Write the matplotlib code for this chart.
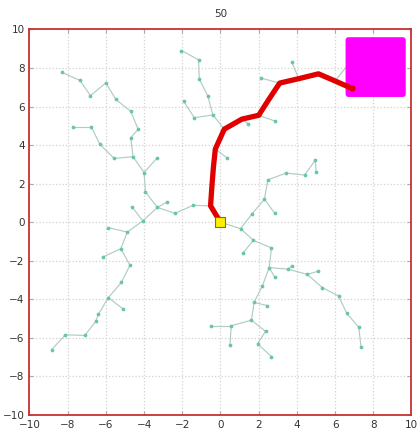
import matplotlib
matplotlib.use("Agg")
import matplotlib.pyplot as plt
from matplotlib.patches import FancyBboxPatch

# Tree nodes (x, y) and parent index (-1 = root)
node_x = [0.0, -0.52, -0.45, -0.37, -0.27, 0.2, 1.12, 2.0, 2.55, 3.1, 4.1, 5.13, 6.0, 6.87,
          0.33, 3.73, 2.12, 2.85, 1.46, 6.7,
          -0.4, -0.66, -1.11, -1.15, -2.05, -1.37, -1.93,
          -1.44, -2.37, -3.3, -2.8, -3.93, -4.0, -3.32, -4.58, -5.57, -6.32, -6.77, -7.74,
          -4.7, -4.31, -4.7, -5.48, -6.0, -6.81, -7.36, -8.3,
          -4.07, -4.63, -4.88, -5.87, -5.22, -6.13, -4.74, -5.19, -5.87, -5.09, -6.39, -6.53,
          -7.1, -8.13, -8.84,
          1.05, 1.65, 2.3, 2.83, 2.48, 3.43, 4.41, 4.96, 5.02,
          1.72, 1.2, 2.67, 2.55, 2.85, 3.54, 3.75, 4.55, 5.1, 5.33, 6.18, 6.61, 7.24, 7.36,
          2.2, 1.76, 2.45, 1.62, 0.56, -0.48, 0.5, 2.36, 1.94, 2.67]
node_y = [0.0, 0.85, 1.85, 2.85, 3.8, 4.83, 5.35, 5.55, 6.4, 7.22, 7.45, 7.7, 7.33, 6.95,
          3.35, 8.31, 7.48, 5.25, 5.11, 8.2,
          5.57, 6.54, 7.43, 8.43, 8.91, 5.42, 6.28,
          0.88, 0.46, 0.77, 1.05, 1.57, 2.58, 3.33, 3.4, 3.31, 4.05, 4.96, 4.96,
          4.39, 4.82, 5.76, 6.37, 7.23, 6.57, 7.36, 7.77,
          0.07, 0.8, -0.51, -0.28, -1.37, -1.79, -2.23, -3.12, -3.91, -4.51, -4.77, -5.14,
          -5.87, -5.84, -6.61,
          -0.33, 0.43, 1.2, 0.48, 2.2, 2.55, 2.45, 3.22, 2.59,
          -0.94, -1.57, -1.33, -2.35, -2.86, -2.43, -2.26, -2.71, -2.54, -3.39, -3.82, -4.72, -5.45, -6.48,
          -3.29, -4.16, -4.32, -5.08, -5.37, -5.37, -6.38, -5.66, -6.3, -6.97]
node_parent = [-1, 0, 1, 2, 3, 4, 5, 6, 7, 8, 9, 10, 11, 12,
               4, 10, 9, 7, 6, 12,
               5, 20, 21, 22, 23, 20, 25,
               1, 27, 28, 29, 29, 31, 32, 32, 34, 35, 36, 37,
               34, 39, 40, 41, 42, 43, 44, 45,
               29, 47, 47, 49, 49, 51, 51, 53, 54, 55, 55, 57,
               58, 59, 60,
               0, 62, 63, 64, 64, 66, 67, 68, 69,
               62, 71, 71, 73, 74, 74, 76, 76, 78, 78, 80, 81, 82, 83,
               74, 85, 86, 86, 88, 89, 89, 88, 92, 93]

# Solution path (node indices from start to goal)
path_nodes = [0, 1, 2, 3, 4, 5, 6, 7, 8, 9, 10, 11, 12, 13]

# Goal region [xmin, ymin, xmax, ymax]
goal_region = [6.55, 6.5, 9.7, 9.6]
start_xy = (0.0, 0.0)
title_text = "50"
ticks = [-10, -8, -6, -4, -2, 0, 2, 4, 6, 8, 10]

fig = plt.figure(figsize=(4.19, 4.37), dpi=100)
ax = fig.add_axes([0.0704, 0.0503, 0.9116, 0.8822])
ax.set_xlim(-10, 10)
ax.set_ylim(-10, 10)
ax.set_xticks(ticks)
ax.set_yticks(ticks)
ax.tick_params(labelsize=7.5, direction='in', length=3, color='#aaaaaa', colors='#333333',
               top=True, right=True)
ax.grid(True, linestyle=':', color='#d2d2d2', linewidth=0.9)
ax.set_axisbelow(True)
for sp in ax.spines.values():
    sp.set_color('#c83232')
    sp.set_linewidth(1.3)
ax.set_title(title_text, fontsize=7.5, pad=9, color='#333333')

edge_col = '#b0ccc6'
node_col = '#6cc4ae'
for i, p in enumerate(node_parent):
    if p >= 0:
        ax.plot([node_x[p], node_x[i]], [node_y[p], node_y[i]], color=edge_col, lw=0.85, zorder=2)
ax.plot(node_x, node_y, 'o', color=node_col, ms=1.7, zorder=3)

rect = FancyBboxPatch((goal_region[0], goal_region[1]),
                      goal_region[2] - goal_region[0], goal_region[3] - goal_region[1],
                      boxstyle="round,pad=0,rounding_size=0.15",
                      facecolor='#ff00ff', edgecolor='none', zorder=4)
ax.add_patch(rect)

px = [node_x[i] for i in path_nodes]
py = [node_y[i] for i in path_nodes]
ax.plot(px, py, color='#e00000', lw=3.8, solid_joinstyle='round', solid_capstyle='round', zorder=5)
ax.plot(px[-1], py[-1], 'o', color='#e00000', ms=3.5, zorder=6)
ax.plot(start_xy[0], start_xy[1], 's', color='#ffee00', mec='#777700', mew=0.8, ms=6.5, zorder=7)

fig.savefig('out.png', dpi=100)
